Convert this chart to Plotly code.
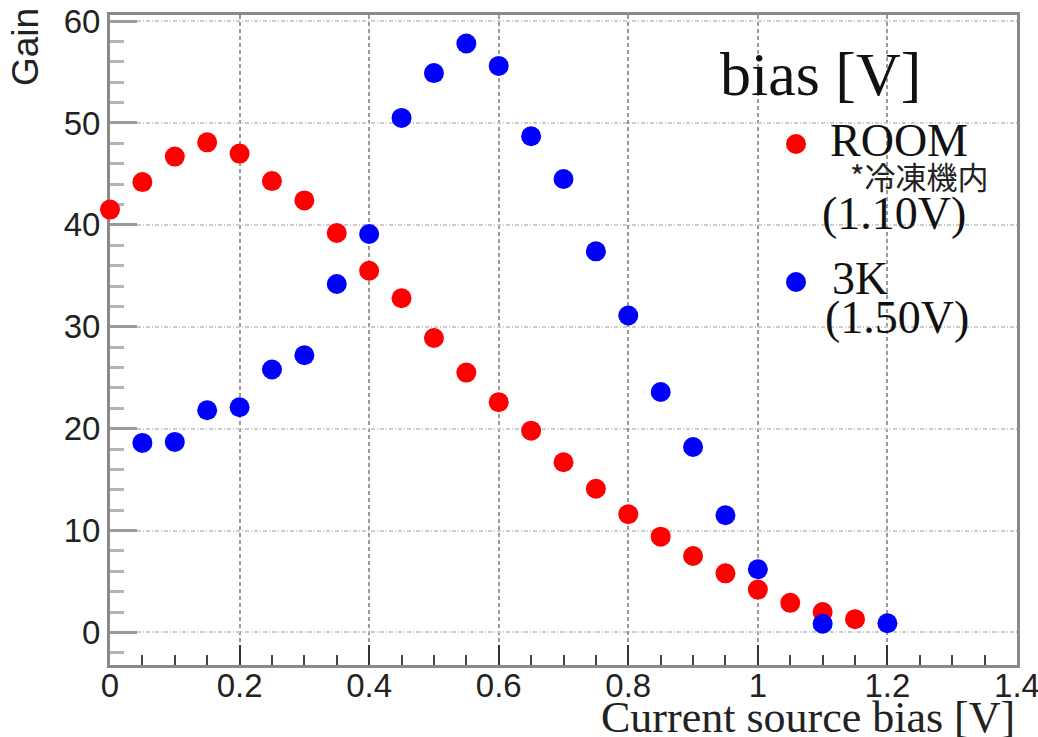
import plotly.graph_objects as go

# Gain vs. current source bias, measured at room temperature and at 3 K
room_bias = [0.00, 0.05, 0.10, 0.15, 0.20, 0.25, 0.30, 0.35, 0.40, 0.45, 0.50, 0.55,
             0.60, 0.65, 0.70, 0.75, 0.80, 0.85, 0.90, 0.95, 1.00, 1.05, 1.10, 1.15]
room_gain = [41.5, 44.2, 46.7, 48.1, 47.0, 44.3, 42.4, 39.2, 35.5, 32.8, 28.9, 25.5,
             22.6, 19.8, 16.7, 14.1, 11.6, 9.4, 7.5, 5.8, 4.2, 2.9, 2.0, 1.3]

cold_bias = [0.05, 0.10, 0.15, 0.20, 0.25, 0.30, 0.35, 0.40, 0.45, 0.50, 0.55, 0.60,
             0.65, 0.70, 0.75, 0.80, 0.85, 0.90, 0.95, 1.00, 1.10, 1.20]
cold_gain = [18.6, 18.7, 21.8, 22.1, 25.8, 27.2, 34.2, 39.1, 50.5, 54.9, 57.8, 55.6,
             48.7, 44.5, 37.4, 31.1, 23.6, 18.2, 11.5, 6.2, 0.85, 0.9]

x_ticks = [0, 0.2, 0.4, 0.6, 0.8, 1, 1.2, 1.4]
x_tick_text = ["0", "0.2", "0.4", "0.6", "0.8", "1", "1.2", "1.4"]
y_ticks = [0, 10, 20, 30, 40, 50, 60]

W, H = 1038, 737
L, R, T, B = 110, 21, 15, 72
PW, PH = W - L - R, H - T - B

SERIF = "Liberation Serif, Times New Roman, serif"
SANS = "Liberation Sans, Arial, sans-serif"


def px(xp):
    return (xp - L) / PW


def py(yp):
    return (H - B - yp) / PH


fig = go.Figure()
fig.add_trace(go.Scatter(x=room_bias, y=room_gain, mode="markers", name="ROOM",
                         cliponaxis=False,
                         marker=dict(color="#ff0000", size=20, line=dict(width=0))))
fig.add_trace(go.Scatter(x=cold_bias, y=cold_gain, mode="markers", name="3K",
                         cliponaxis=False,
                         marker=dict(color="#0000ff", size=20, line=dict(width=0))))

fig.update_xaxes(
    range=[0, 1.4], tickvals=x_ticks, ticktext=x_tick_text,
    ticks="inside", ticklen=20, tickwidth=2, tickcolor="#333333",
    minor=dict(dtick=0.05, ticks="inside", ticklen=10, tickwidth=2, tickcolor="#444444",
               showgrid=False),
    showline=True, linecolor="#8a8a8a", linewidth=3, mirror=True,
    showgrid=True, gridcolor="#9a9a9a", gridwidth=1.5, griddash="4px,3px",
    zeroline=False, automargin=False, layer="below traces",
    ticklabelstandoff=-11, ticklabeloverflow="allow",
    tickfont=dict(family=SANS, size=33, color="#222222"),
)
fig.update_yaxes(
    range=[-3.2, 60.6], tickvals=y_ticks,
    ticks="inside", ticklen=27, tickwidth=3, tickcolor="#9a9a9a",
    minor=dict(dtick=2, ticks="inside", ticklen=14, tickwidth=3, tickcolor="#b4b4b4",
               showgrid=False),
    showline=True, linecolor="#8a8a8a", linewidth=3, mirror=True,
    showgrid=True, gridcolor="#cccccc", gridwidth=2, griddash="4px,2px,1px,2px",
    zeroline=False, automargin=False, layer="below traces",
    ticklabeloverflow="allow",
    tickfont=dict(family=SANS, size=33, color="#222222"),
)

annotations = [
    dict(text="Gain", x=px(26), y=py(47), textangle=-90,
         font=dict(family=SANS, size=37, color="#222222")),
    dict(text="Current source bias [V]", x=1.0, y=py(717), xanchor="right",
         font=dict(family=SERIF, size=44, color="#222222")),
    dict(text="bias [V]", x=px(820), y=py(74),
         font=dict(family=SERIF, size=62, color="#111111")),
    dict(text="ROOM", x=px(828), y=py(140), xanchor="left",
         font=dict(family=SERIF, size=46, color="#111111")),
    dict(text="*冷凍機内", x=px(848), y=py(176), xanchor="left",
         font=dict(family="Noto Sans CJK JP", size=31, color="#222222")),
    dict(text="(1.10V)", x=px(820), y=py(214), xanchor="left",
         font=dict(family=SERIF, size=46, color="#111111")),
    dict(text="3K", x=px(830), y=py(278), xanchor="left",
         font=dict(family=SERIF, size=46, color="#111111")),
    dict(text="(1.50V)", x=px(823), y=py(317), xanchor="left",
         font=dict(family=SERIF, size=46, color="#111111")),
]
for a in annotations:
    a.setdefault("xanchor", "center")
    a.update(xref="paper", yref="paper", yanchor="middle", showarrow=False)

# legend swatches
shapes = []
for cy, col in [(144, "#ff0000"), (282, "#0000ff")]:
    shapes.append(dict(type="circle", xref="paper", yref="paper",
                       xsizemode="pixel", ysizemode="pixel",
                       xanchor=px(796), yanchor=py(cy),
                       x0=-10, x1=10, y0=-10, y1=10,
                       fillcolor=col, line=dict(width=0), layer="above"))

fig.update_layout(
    width=W, height=H, margin=dict(l=L, r=R, t=T, b=B),
    paper_bgcolor="white", plot_bgcolor="white", showlegend=False,
    annotations=annotations, shapes=shapes,
)

fig.write_html("out.html")
